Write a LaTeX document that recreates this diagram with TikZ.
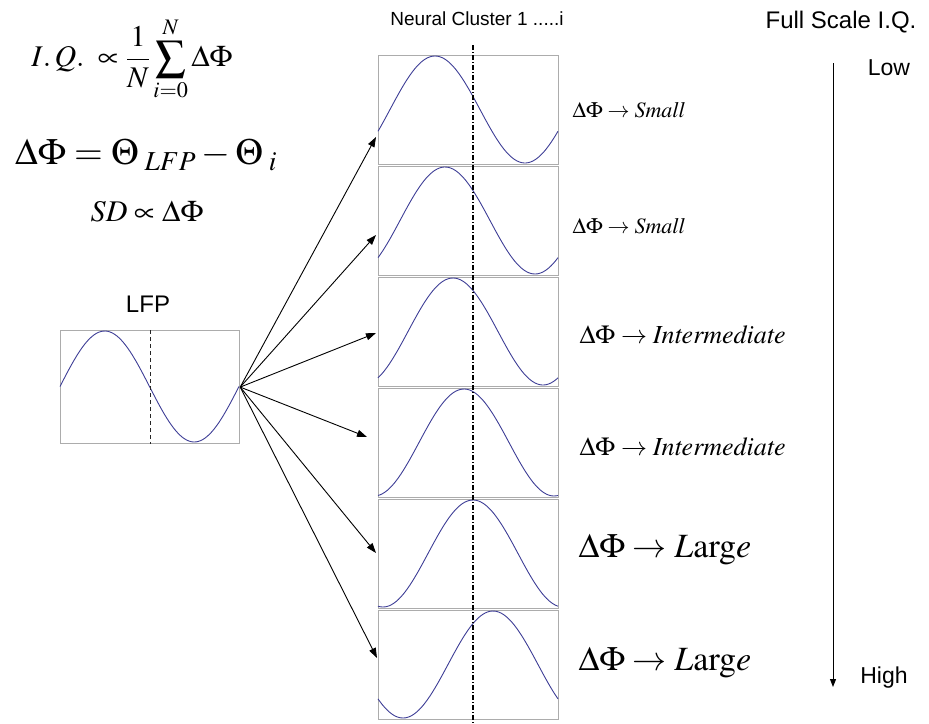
\documentclass[tikz,border=0pt]{standalone}
\usepackage{mathptmx}
\usepackage[no-math]{fontspec}
\setmainfont{Liberation Serif}
\setsansfont{Liberation Sans}
\usetikzlibrary{arrows.meta,positioning}
\definecolor{framegray}{RGB}{172,172,172}
\definecolor{waveblue}{RGB}{62,62,150}

\begin{document}
\begin{tikzpicture}[x=1pt,y=-1pt,
    clusterbox/.style={draw=framegray, line width=1.2pt, inner sep=0pt, minimum width=180pt, minimum height=109pt, anchor=north west},
    wave/.style={draw=waveblue, line width=0.9pt},
    fan/.style={-{Triangle[length=10pt,width=7pt]}, line width=0.9pt},
    sanslabel/.style={font=\sffamily\fontsize{#1}{#1}\selectfont},
    phaselabel/.style={anchor=west, font=\fontsize{#1}{#1}\selectfont}]
    \useasboundingbox (0,0) rectangle (929,723);

    % Equations
    \node[font=\fontsize{30}{34}\selectfont, inner sep=0pt] (iq) at (132,59) {$\displaystyle I.\,Q.\;\propto\frac{1}{N}\sum_{i=0}^{N}\Delta\Phi$};
    \node[font=\fontsize{37}{42}\selectfont, inner sep=0pt] (dphi) at (146,155) {$\Delta\Phi=\Theta_{\;LFP}-\Theta_{\;i}$};
    \node[font=\fontsize{30}{34}\selectfont, inner sep=0pt] (sd) at (147,212) {$SD\propto\Delta\Phi$};

    % LFP trace
    \node[sanslabel=24] (lfplabel) at (148,304) {LFP};
    \node[draw=framegray, line width=1.2pt, inner sep=0pt, minimum width=179pt, minimum height=113pt, anchor=north west] (lfp) at (60,330) {};
    \draw[wave] plot[domain=0:179, samples=80] ({60+\x},{386.5-55.5*sin(2.0112*\x)});
    \draw[black!85, line width=1.1pt, dash pattern=on 4pt off 3pt] (lfp.north) -- (lfp.south);

    % Neural clusters
    \node[sanslabel=19] (clustertitle) at (477,19) {Neural Cluster 1 .....i};
    \foreach \k/\s/\tx/\ty [count=\n] in {0/12/376/137, 1/22/376/235, 2/30/376/333, 3/41/367/437, 4/50/376/553, 5/70/377/658} {
        \node[clusterbox] (c\n) at (378,{55+111*\k}) {};
        \draw[wave] plot[domain=0:180, samples=80] ({378+\x},{55+111*\k+54.5-53.5*sin(2*(\x-\s))});
        \coordinate (tip\n) at (\tx,\ty);
        \draw[fan] (lfp.east) -- (tip\n);
    }
    \coordinate (phasetop) at (473,45);
    \coordinate (phasebot) at (473,723);
    \draw[line width=1.3pt, dash pattern=on 5pt off 2pt on 1pt off 2pt] (phasetop) -- (phasebot);

    % Phase differences
    \node[phaselabel=22] (d1) at (569,110) {$\Delta\Phi\rightarrow\mathit{Small}$};
    \node[phaselabel=22] (d2) at (569,226) {$\Delta\Phi\rightarrow\mathit{Small}$};
    \node[phaselabel=26] (d3) at (576,335) {$\Delta\Phi\rightarrow\mathit{Intermediate}$};
    \node[phaselabel=26] (d4) at (576,447) {$\Delta\Phi\rightarrow\mathit{Intermediate}$};
    \node[phaselabel=34] (d5) at (575,550) {$\Delta\Phi\rightarrow L\mathrm{arg}e$};
    \node[phaselabel=34] (d6) at (575,663) {$\Delta\Phi\rightarrow L\mathrm{arg}e$};

    % IQ scale
    \node[sanslabel=24] (scaletitle) at (841,22) {Full Scale I.Q.};
    \node[sanslabel=23] (low) at (889,68) {Low};
    \node[sanslabel=23] (high) at (884,678) {High};
    \coordinate (scaletop) at (833,63);
    \coordinate (scalebot) at (833,687);
    \draw[-{Triangle[length=8pt,width=6pt]}, line width=1pt] (scaletop) -- (scalebot);
\end{tikzpicture}
\end{document}
